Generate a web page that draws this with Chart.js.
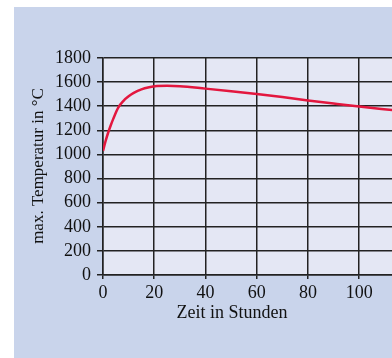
<!DOCTYPE html>
<html>
<head>
<meta charset="utf-8">
<script src="https://cdn.jsdelivr.net/npm/chart.js@4"></script>
<style>
  html, body { margin: 0; padding: 0; background: #fff; }
  #wrap { width: 392px; height: 358px; position: relative; }
</style>
</head>
<body>
<div id="wrap"><canvas id="chart" width="392" height="358"></canvas></div>
<script>
// Zeit (h) and max. temperature (°C)
const hours = [0, 1, 2, 3, 4, 6, 8, 10, 12, 15, 18, 21, 25, 30, 40, 50, 60, 70, 80, 90, 100, 113];
const temps = [1030, 1110, 1180, 1240, 1295, 1390, 1445, 1482, 1510, 1540, 1557, 1567, 1570, 1566, 1546, 1525, 1502, 1476, 1448, 1422, 1397, 1368];
const xTitle = 'Zeit in Stunden';
const yTitle = 'max. Temperatur in °C';

const FONT = '"Liberation Serif", "Times New Roman", serif';

// panel + plot background and the two axis titles
const backdrop = {
    id: 'backdrop',
    beforeDraw(chart) {
        const { ctx, chartArea: a } = chart;
        ctx.save();
        ctx.fillStyle = '#c9d4eb';
        ctx.fillRect(14, 7, chart.width - 14, chart.height - 7);
        ctx.fillStyle = '#e4e7f4';
        ctx.fillRect(a.left, a.top, a.right - a.left, a.bottom - a.top);
        ctx.restore();
    },
    afterDraw(chart) {
        const { ctx } = chart;
        ctx.save();
        ctx.fillStyle = '#111';
        ctx.textAlign = 'center';
        ctx.textBaseline = 'middle';
        ctx.font = '18px ' + FONT;
        ctx.fillText(xTitle, 232, 313);
        ctx.font = '17px ' + FONT;
        ctx.translate(39, 166);
        ctx.rotate(-Math.PI / 2);
        ctx.fillText(yTitle, 0, 0);
        ctx.restore();
    }
};

new Chart(document.getElementById('chart'), {
    type: 'line',
    data: {
        datasets: [{
            data: hours.map((h, i) => ({ x: h, y: temps[i] })),
            borderColor: '#e3173e',
            borderWidth: 2.5,
            pointRadius: 0,
            cubicInterpolationMode: 'monotone',
            fill: false
        }]
    },
    options: {
        responsive: false,
        animation: false,
        layout: { padding: { top: 58, right: 0, bottom: 0, left: 0 } },
        plugins: { legend: { display: false }, tooltip: { enabled: false } },
        scales: {
            x: {
                type: 'linear',
                min: 0,
                max: 112.8,
                afterFit: s => { s.height = 83; },
                grid: { color: '#222', lineWidth: 1.5, tickLength: 4 },
                border: { color: '#222', width: 1.5 },
                ticks: {
                    stepSize: 20,
                    includeBounds: false,
                    autoSkip: false,
                    color: '#111',
                    font: { family: FONT, size: 18 },
                    padding: 3,
                    maxRotation: 0,
                    callback: v => String(v)
                }
            },
            y: {
                min: 0,
                max: 1800,
                afterFit: s => { s.width = 103; },
                grid: { color: '#222', lineWidth: 1.5, tickLength: 6 },
                border: { color: '#222', width: 1.5 },
                ticks: {
                    stepSize: 200,
                    autoSkip: false,
                    color: '#111',
                    font: { family: FONT, size: 18 },
                    padding: 6,
                    callback: v => String(v)
                }
            }
        }
    },
    plugins: [backdrop]
});
</script>
</body>
</html>
